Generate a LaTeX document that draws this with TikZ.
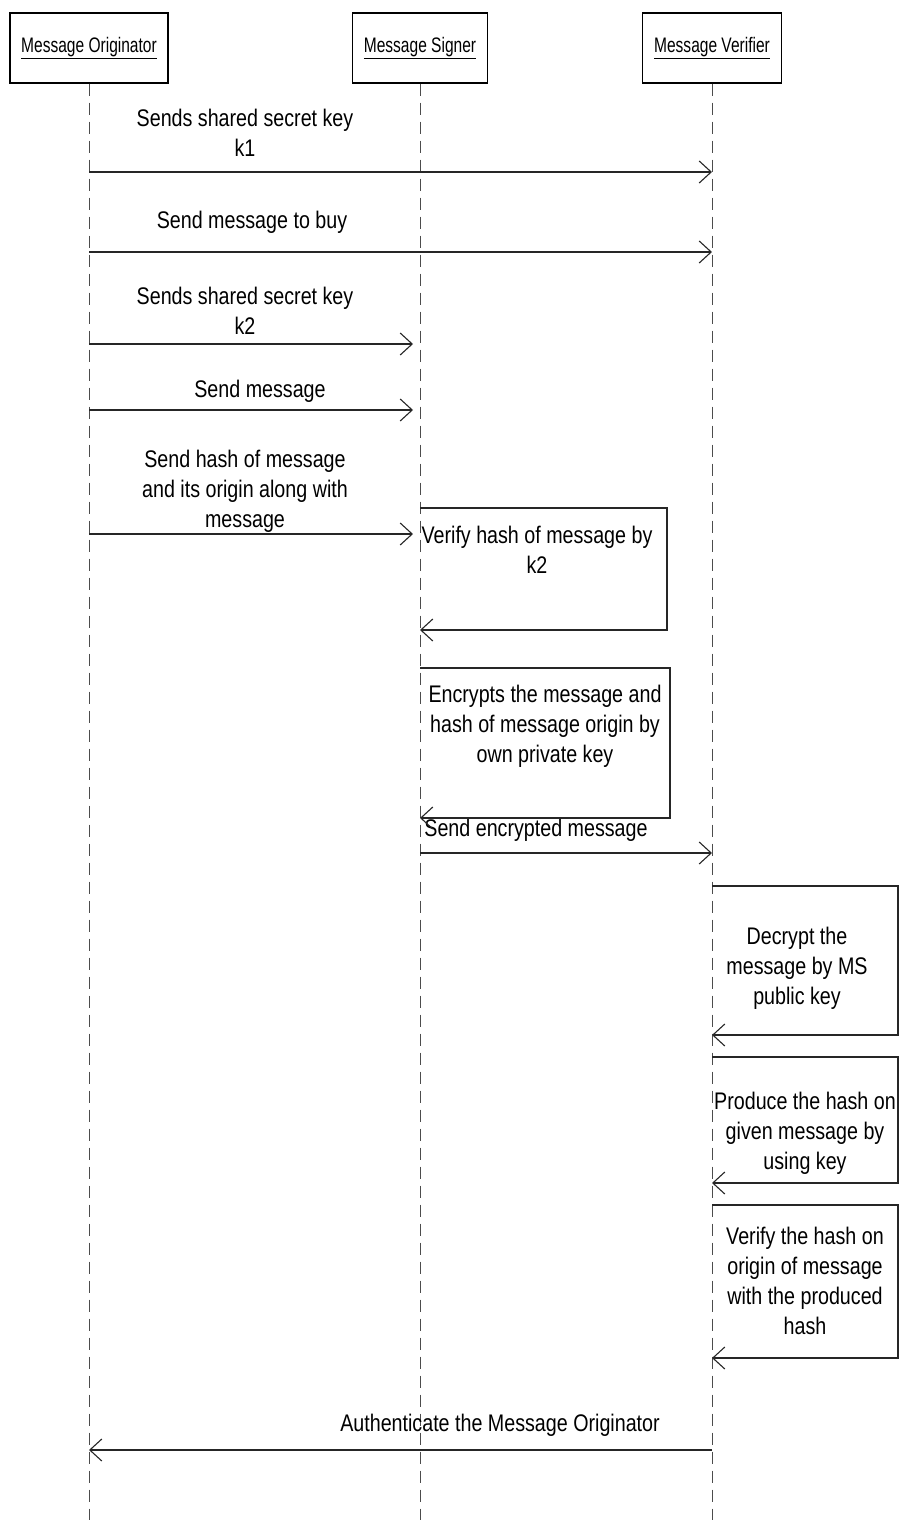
\documentclass[tikz,border=0pt]{standalone}
\usepackage{fontspec}
\setmainfont{Liberation Sans}[FakeStretch=0.82]
\newfontfamily\headfont{Liberation Sans}[FakeStretch=0.74]
\usepackage{tikz}
\usetikzlibrary{positioning,arrows.meta}
\definecolor{lineclr}{rgb}{0.15, 0.15, 0.15}
\definecolor{lifeclr}{rgb}{0.3, 0.3, 0.3}
\tikzset{ %
  ,>={Straight Barb[length=12pt, width=22pt]}
  ,every node/.style={font=\fontsize{24}{30}\selectfont}
  ,actor/.style={draw, line width=1.3pt, minimum height=70pt, inner sep=0, font=\headfont\fontsize{21}{24}\selectfont}
  ,life/.style={draw=lifeclr, line width=0.9pt, dash pattern=on 12pt off 7pt}
  ,msg/.style={->, draw=lineclr, line width=1.1pt}
  ,note/.style={align=center, inner sep=0}
}

\begin{document}
\begin{tikzpicture}[x=1pt, y=-1pt]
      \useasboundingbox (0,0) rectangle (900,1520);
      \draw 
      node[actor, minimum width=158pt] (orig) at (89,48) {\underline{Message Originator}} 
      node[actor, minimum width=135pt] (sign) at (420,48) {\underline{Message Signer}} 
      node[actor, minimum width=139pt] (verif) at (712,48) {\underline{Message Verifier}};
      \coordinate (origEnd) at (orig |- 0,1520);
      \coordinate (signEnd) at (sign |- 0,1520);
      \coordinate (verifEnd) at (verif |- 0,1520);
      \draw [life] (orig) edge (origEnd) (sign) edge (signEnd) (verif) edge (verifEnd);
      % messages
      \coordinate (m1) at (0,172);
      \coordinate (m2) at (0,252);
      \coordinate (m3) at (0,344);
      \coordinate (m4) at (0,410);
      \coordinate (m5) at (0,534);
      \coordinate (m6) at (0,853);
      \coordinate (m7) at (0,1450);
      \draw 
      node[note] (t1) at (245,133) {Sends shared secret key\\k1} 
      node[note] (t2) at (252,222) {Send message to buy} 
      node[note] (t3) at (245,311) {Sends shared secret key\\k2} 
      node[note] (t4) at (260,391) {Send message} 
      node[note] (t5) at (245,491) {Send hash of message\\and its origin along with\\message} 
      node[note] (t6) at (536,830) {Send encrypted message} 
      node[note] (t7) at (500,1425) {Authenticate the Message Originator};
      \draw [msg] (orig |- m1) -- (verif |- m1);
      \draw [msg] (orig |- m2) -- (verif |- m2);
      \draw [msg, shorten >=7pt] (orig |- m3) -- (sign |- m3);
      \draw [msg, shorten >=7pt] (orig |- m4) -- (sign |- m4);
      \draw [msg, shorten >=7pt] (orig |- m5) -- (sign |- m5);
      \draw [msg] (sign |- m6) -- (verif |- m6);
      \draw [msg] (verif |- m7) -- (orig |- m7);
      % self calls
      \draw 
      node[note] (v1) at (537,550) {Verify hash of message by\\k2} 
      node[note] (v2) at (545,726) {Encrypts the message and\\hash of message origin by\\own private key} 
      node[note] (v3) at (797,968) {Decrypt the\\message by MS\\public key} 
      node[note] (v4) at (805,1133) {Produce the hash on\\given message by\\using key} 
      node[note] (v5) at (805,1281) {Verify the hash on\\origin of message\\with the produced\\hash};
      \draw [msg] (sign |- 0,508) -- (667,508) -- (667,630) -- (sign |- 0,630);
      \draw [msg] (sign |- 0,668) -- (670,668) -- (670,818) -- (sign |- 0,818);
      \draw [msg] (verif |- 0,886) -- (898,886) -- (898,1035) -- (verif |- 0,1035);
      \draw [msg] (verif |- 0,1057) -- (898,1057) -- (898,1183) -- (verif |- 0,1183);
      \draw [msg] (verif |- 0,1205) -- (898,1205) -- (898,1358) -- (verif |- 0,1358);
    \end{tikzpicture}
\end{document}
